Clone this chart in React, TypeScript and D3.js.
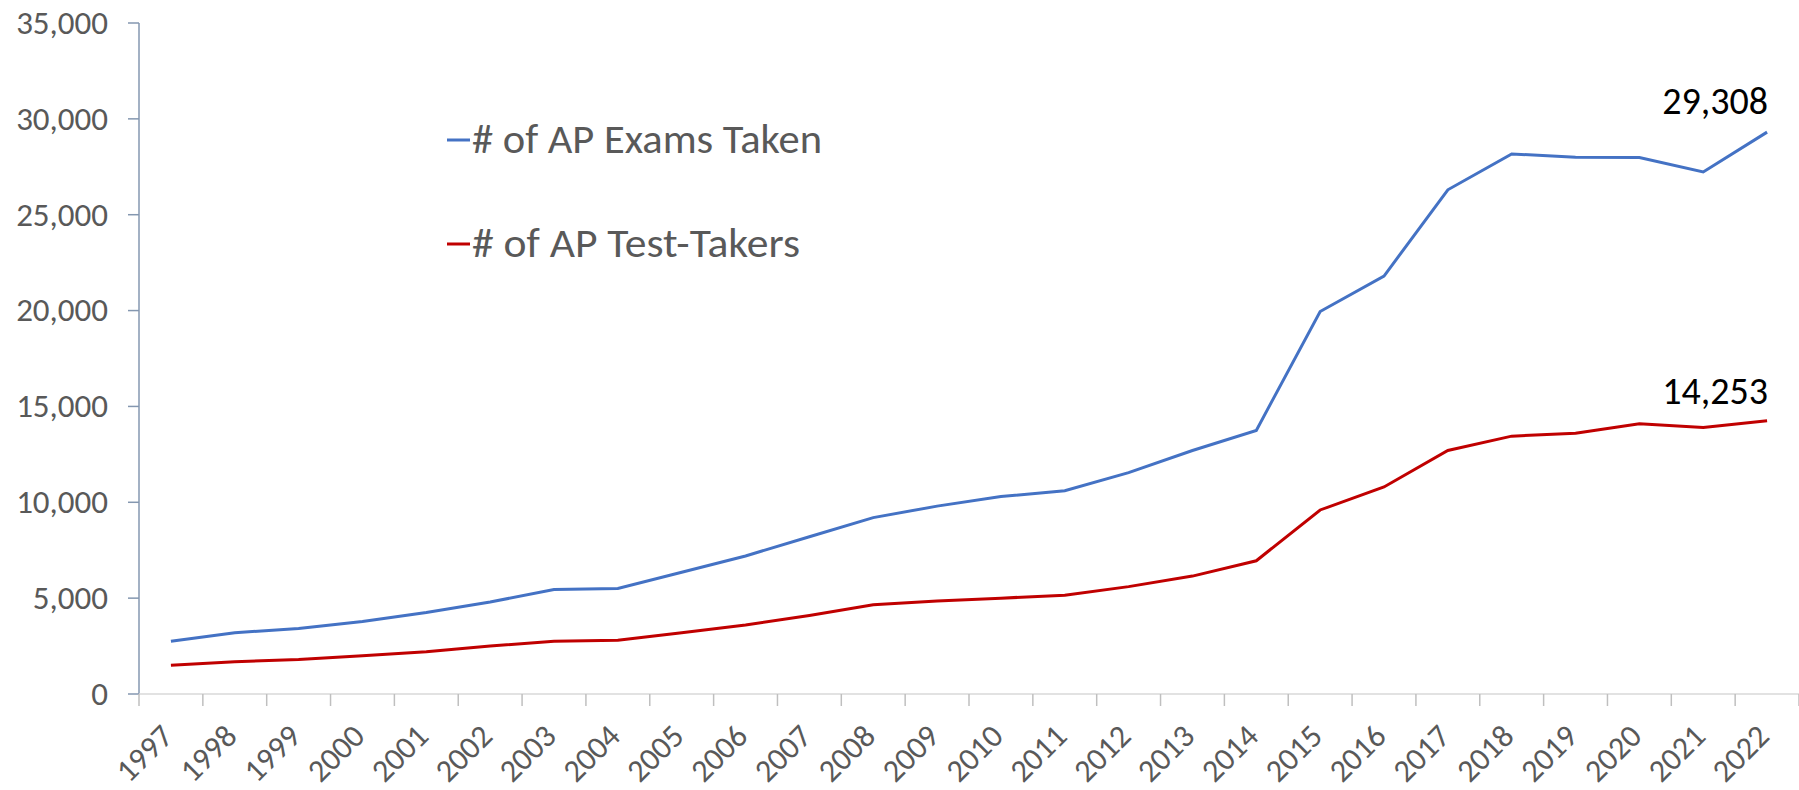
import React from "react";
import * as d3 from "d3";

const years = [
  "1997", "1998", "1999", "2000", "2001", "2002", "2003", "2004", "2005", "2006",
  "2007", "2008", "2009", "2010", "2011", "2012", "2013", "2014", "2015", "2016",
  "2017", "2018", "2019", "2020", "2021", "2022",
];
const examsTaken = [
  2750, 3200, 3420, 3780, 4250, 4800, 5450, 5500, 6350, 7200,
  8200, 9200, 9800, 10300, 10600, 11550, 12700, 13750, 19950, 21800,
  26300, 28170, 28000, 27980, 27230, 29308,
];
const testTakers = [
  1500, 1680, 1800, 2000, 2200, 2500, 2750, 2800, 3200, 3600,
  4100, 4650, 4850, 5000, 5150, 5600, 6150, 6950, 9600, 10800,
  12700, 13450, 13600, 14100, 13900, 14253,
];
const yTicks = [0, 5000, 10000, 15000, 20000, 25000, 30000, 35000];
const legendNames = ["# of AP Exams Taken", "# of AP Test-Takers"];

const W = 1799;
const H = 790;
const font = "Carlito, Calibri, Lato, sans-serif";

const App = () => {
  const x = d3.scaleBand().domain(years).range([139, 1799]);
  const y = d3.scaleLinear().domain([0, 35000]).range([694, 23]);
  const cx = (d: string) => (x(d) as number) + x.bandwidth() / 2;
  const fmt = d3.format(",");

  const line = d3
    .line<number>()
    .x((_, i) => cx(years[i]))
    .y((v) => y(v));

  const series = [
    { name: legendNames[0], values: examsTaken, color: "#4472c4", legendW: 350 },
    { name: legendNames[1], values: testTakers, color: "#c00000", legendW: 328 },
  ];

  const last = years.length - 1;

  return (
    <div style={{ position: "absolute", left: 0, top: 0 }}>
      <svg width={W} height={H} style={{ display: "block", background: "#fff" }}>
        {/* y axis */}
        <line x1={139} x2={139} y1={y(35000)} y2={y(0)} stroke="#8497b0" strokeWidth={1.5} />
        {yTicks.map((t) => (
          <g key={t}>
            <line x1={128} x2={139} y1={y(t)} y2={y(t)} stroke="#8497b0" strokeWidth={1.5} />
            <text
              x={108}
              y={y(t)}
              dy="0.33em"
              textAnchor="end"
              fontFamily={font}
              fontSize={33}
              fill="#595959"
            >
              {fmt(t)}
            </text>
          </g>
        ))}
        {/* x axis */}
        <line x1={139} x2={1799} y1={y(0)} y2={y(0)} stroke="#d9d9d9" strokeWidth={1.5} />
        {years.concat(["end"]).map((d, i) => {
          const px = 139 + i * x.bandwidth();
          return (
            <line key={d} x1={px} x2={px} y1={y(0)} y2={y(0) + 12} stroke="#bfbfbf" strokeWidth={1.5} />
          );
        })}
        {years.map((d) => (
          <text
            key={d}
            transform={`translate(${cx(d) + 4},${738}) rotate(-45)`}
            textAnchor="end"
            fontFamily={font}
            fontSize={32}
            fill="#595959"
          >
            {d}
          </text>
        ))}
        {/* lines */}
        {series.map((s) => (
          <path key={s.name} d={line(s.values) as string} fill="none" stroke={s.color} strokeWidth={3} />
        ))}
        {/* end labels */}
        {series.map((s, i) => (
          <text
            key={s.name + "lbl"}
            x={cx(years[last]) + 1}
            y={y(s.values[last]) - (i === 0 ? 18 : 17)}
            textAnchor="end"
            fontFamily={font}
            fontSize={38}
            fill="#000"
          >
            {fmt(s.values[last])}
          </text>
        ))}
        {/* legend */}
        {series.map((s, i) => {
          const ly = 140 + i * 104;
          return (
            <g key={s.name + "leg"}>
              <line x1={447} x2={470} y1={ly} y2={ly} stroke={s.color} strokeWidth={3} />
              <text
                x={472}
                y={ly + 13}
                fontFamily={font}
                fontSize={40}
                fill="#595959"
                textLength={s.legendW}
                lengthAdjust="spacingAndGlyphs"
              >
                {s.name}
              </text>
            </g>
          );
        })}
      </svg>
    </div>
  );
};

export default App;
